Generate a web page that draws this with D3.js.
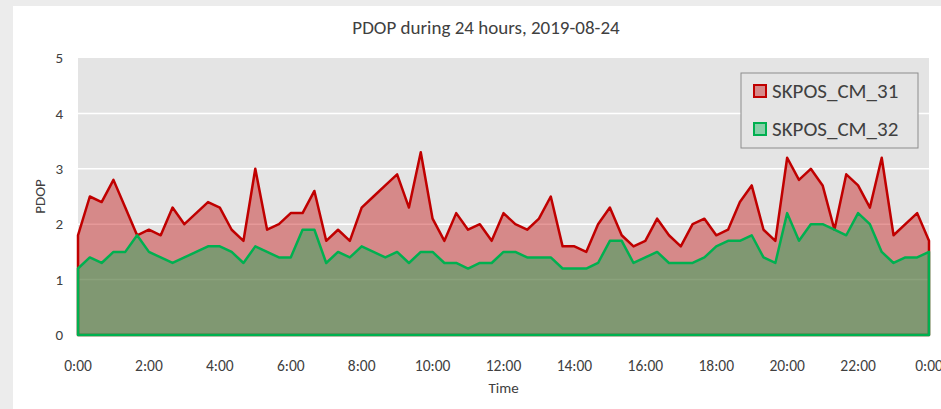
<!DOCTYPE html>
<html lang="en">
<head>
    <meta charset="UTF-8">
    <title>PDOP during 24 hours</title>
    <script src="https://d3js.org/d3.v7.min.js"></script>
    <style>
        body {
            margin: 0;
            background: #ececec;
            font-family: Carlito, Calibri, Lato, sans-serif;
        }
        svg text { fill: #404040; }
    </style>
</head>
<body>
    <div id="chart"></div>

    <script>
        // PDOP samples every 20 minutes, 0:00 .. 24:00
        const stepMinutes = 20;
        const seriesNames = ["SKPOS_CM_31", "SKPOS_CM_32"];
        const cm31 = [1.8, 2.5, 2.4, 2.8, 2.3, 1.8, 1.9, 1.8, 2.3, 2.0, 2.2, 2.4, 2.3, 1.9, 1.7, 3.0, 1.9, 2.0,
                      2.2, 2.2, 2.6, 1.7, 1.9, 1.7, 2.3, 2.5, 2.7, 2.9, 2.3, 3.3, 2.1, 1.7, 2.2, 1.9, 2.0, 1.7,
                      2.2, 2.0, 1.9, 2.1, 2.5, 1.6, 1.6, 1.5, 2.0, 2.3, 1.8, 1.6, 1.7, 2.1, 1.8, 1.6, 2.0, 2.1,
                      1.8, 1.9, 2.4, 2.7, 1.9, 1.7, 3.2, 2.8, 3.0, 2.7, 1.9, 2.9, 2.7, 2.3, 3.2, 1.8, 2.0, 2.2, 1.7];
        const cm32 = [1.2, 1.4, 1.3, 1.5, 1.5, 1.8, 1.5, 1.4, 1.3, 1.4, 1.5, 1.6, 1.6, 1.5, 1.3, 1.6, 1.5, 1.4,
                      1.4, 1.9, 1.9, 1.3, 1.5, 1.4, 1.6, 1.5, 1.4, 1.5, 1.3, 1.5, 1.5, 1.3, 1.3, 1.2, 1.3, 1.3,
                      1.5, 1.5, 1.4, 1.4, 1.4, 1.2, 1.2, 1.2, 1.3, 1.7, 1.7, 1.3, 1.4, 1.5, 1.3, 1.3, 1.3, 1.4,
                      1.6, 1.7, 1.7, 1.8, 1.4, 1.3, 2.2, 1.7, 2.0, 2.0, 1.9, 1.8, 2.2, 2.0, 1.5, 1.3, 1.4, 1.4, 1.5];
        const xTickHours = [0, 2, 4, 6, 8, 10, 12, 14, 16, 18, 20, 22, 24];
        const xTickLabels = ["0:00", "2:00", "4:00", "6:00", "8:00", "10:00", "12:00",
                             "14:00", "16:00", "18:00", "20:00", "22:00", "0:00"];
        const yTicks = [0, 1, 2, 3, 4, 5];

        const width = 941, height = 409;
        const margin = { top: 58, right: 12, bottom: 74, left: 78 };

        const svg = d3.select("#chart").append("svg")
            .attr("width", width)
            .attr("height", height)
            .style("display", "block");

        // white chart box inside the grey page border
        svg.append("rect")
            .attr("x", 13).attr("y", 6)
            .attr("width", width - 13).attr("height", height - 6)
            .attr("fill", "#fff");

        const x = d3.scaleLinear().domain([0, 24 * 60]).range([margin.left, width - margin.right]);
        const y = d3.scaleLinear().domain([0, 5]).range([height - margin.bottom, margin.top]);

        // plot background + gridlines
        svg.append("rect")
            .attr("x", x(0)).attr("y", y(5))
            .attr("width", x(24 * 60) - x(0)).attr("height", y(0) - y(5))
            .attr("fill", "#e4e4e4");

        svg.append("g").selectAll("line")
            .data(yTicks.filter(d => d > 0 && d < 5))
            .join("line")
            .attr("x1", x(0)).attr("x2", x(24 * 60))
            .attr("y1", d => y(d)).attr("y2", d => y(d))
            .attr("stroke", "#fff").attr("stroke-width", 1.5);

        const area = d3.area()
            .x((d, i) => x(i * stepMinutes))
            .y0(y(0))
            .y1(d => y(d));

        const styles = [
            { fill: "rgba(192,0,0,0.4)", stroke: "#c00000", data: cm31 },
            { fill: "rgba(0,176,80,0.4)", stroke: "#00b050", data: cm32 }
        ];

        styles.forEach(s => {
            svg.append("path")
                .datum(s.data)
                .attr("d", area)
                .attr("fill", s.fill)
                .attr("stroke", s.stroke)
                .attr("stroke-width", 2.5)
                .attr("stroke-linejoin", "round");
        });

        // y axis labels
        svg.append("g").selectAll("text")
            .data(yTicks)
            .join("text")
            .attr("x", 63)
            .attr("y", d => y(d))
            .attr("dy", "0.35em")
            .attr("text-anchor", "end")
            .style("font-size", "15px")
            .text(d => d);

        // x axis labels
        svg.append("g").selectAll("text")
            .data(xTickHours)
            .join("text")
            .attr("x", d => x(d * 60))
            .attr("y", 371)
            .attr("text-anchor", "middle")
            .style("font-size", "15.5px")
            .text((d, i) => xTickLabels[i]);

        svg.append("text")
            .attr("x", (x(0) + x(24 * 60)) / 2)
            .attr("y", 393)
            .attr("text-anchor", "middle")
            .style("font-size", "15px")
            .text("Time");

        svg.append("text")
            .attr("transform", `translate(45,${(y(0) + y(5)) / 2}) rotate(-90)`)
            .attr("text-anchor", "middle")
            .style("font-size", "15px")
            .text("PDOP");

        svg.append("text")
            .attr("x", 486)
            .attr("y", 34)
            .attr("text-anchor", "middle")
            .style("font-size", "19px")
            .text("PDOP during 24 hours, 2019-08-24");

        // legend
        const legend = svg.append("g").attr("transform", "translate(741,73)");
        legend.append("rect")
            .attr("width", 177).attr("height", 75)
            .attr("fill", "#e4e4e4")
            .attr("stroke", "#8c8c8c").attr("stroke-width", 1);

        seriesNames.forEach((name, i) => {
            const row = legend.append("g").attr("transform", `translate(0,${18 + i * 38})`);
            row.append("rect")
                .attr("x", 13).attr("y", -6)
                .attr("width", 12).attr("height", 12)
                .attr("fill", styles[i].fill)
                .attr("stroke", styles[i].stroke).attr("stroke-width", 2);
            row.append("text")
                .attr("x", 31).attr("y", 0)
                .attr("dy", "0.35em")
                .style("font-size", "21px")
                .text(name);
        });
    </script>
</body>
</html>
